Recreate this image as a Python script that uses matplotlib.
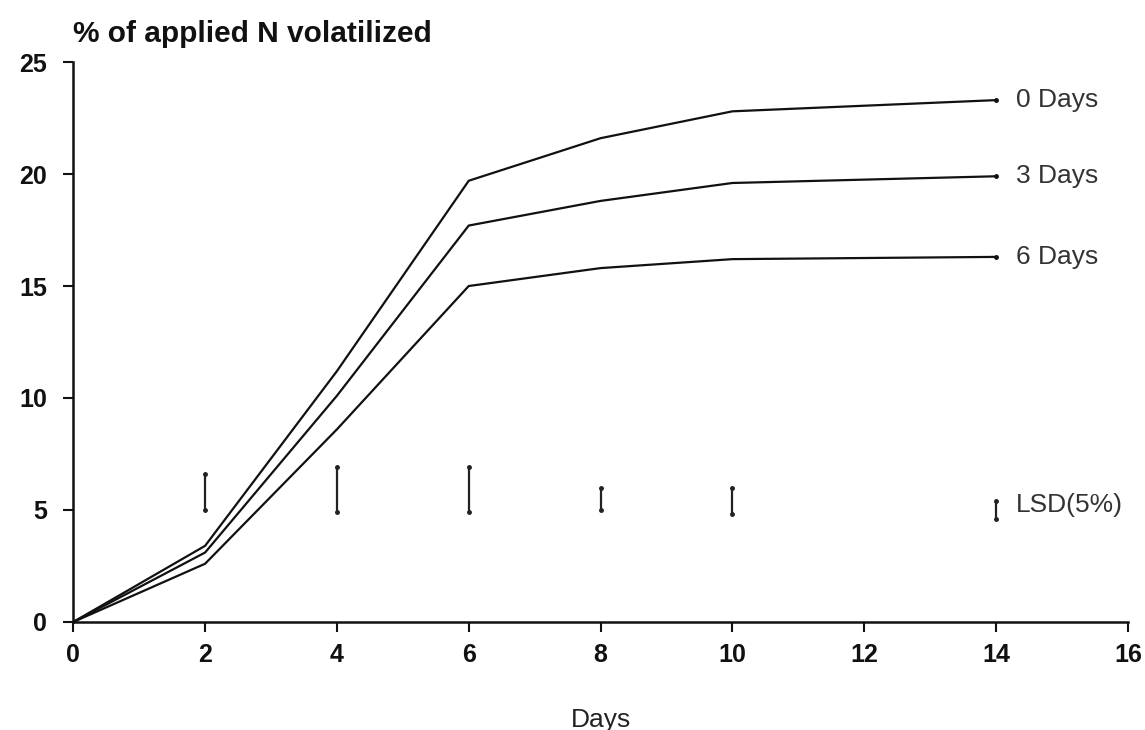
import matplotlib
matplotlib.use("Agg")
import matplotlib.pyplot as plt

# sampling days after application
days = [0, 2, 4, 6, 8, 10, 14]

# % of applied N volatilized, by delay before incorporation
n_0days = [0.0, 3.4, 11.2, 19.7, 21.6, 22.8, 23.3]
n_3days = [0.0, 3.1, 10.1, 17.7, 18.8, 19.6, 19.9]
n_6days = [0.0, 2.6, 8.6, 15.0, 15.8, 16.2, 16.3]
series_labels = ["0 Days", "3 Days", "6 Days"]

# LSD (5%) bars: day, bottom, top
lsd_days = [2, 4, 6, 8, 10, 14]
lsd_low = [5.0, 4.9, 4.9, 5.0, 4.8, 4.6]
lsd_high = [6.6, 6.9, 6.9, 6.0, 6.0, 5.4]

xticks = [0, 2, 4, 6, 8, 10, 12, 14, 16]
yticks = [0, 5, 10, 15, 20, 25]

plt.rcParams["font.family"] = ["Liberation Sans", "DejaVu Sans"]

fig = plt.figure(figsize=(11.45, 7.3), dpi=100)
ax = fig.add_axes([0.064, 0.148, 0.921, 0.767])

for vals, lab in zip([n_0days, n_3days, n_6days], series_labels):
    ax.plot(days, vals, color="#111111", linewidth=1.6)
    ax.plot(days[-1], vals[-1], marker="o", markersize=2.5, color="#111111")
    ax.text(days[-1] + 0.3, vals[-1], lab, fontsize=19, color="#333333",
            va="center", ha="left")

# LSD bars
for d, lo, hi in zip(lsd_days, lsd_low, lsd_high):
    ax.plot([d, d], [lo, hi], color="#222222", linewidth=1.6,
            marker="o", markersize=2.5)
ax.text(14.3, 5.2, "LSD(5%)", fontsize=19, color="#333333",
        va="center", ha="left")

ax.set_xlim(0, 16)
ax.set_ylim(0, 25)
ax.set_xticks(xticks)
ax.set_yticks(yticks)
ax.set_xticklabels([str(t) for t in xticks], fontsize=18, fontweight="bold")
ax.set_yticklabels([str(t) for t in yticks], fontsize=18, fontweight="heavy")
ax.tick_params(axis="both", direction="out", length=7, width=1.5, colors="#111111")
ax.tick_params(axis="y", pad=12)
ax.tick_params(axis="x", pad=8)

for side in ["top", "right"]:
    ax.spines[side].set_visible(False)
for side in ["left", "bottom"]:
    ax.spines[side].set_linewidth(1.8)
    ax.spines[side].set_color("#111111")

ax.set_xlabel("Days", fontsize=19, color="#222222", labelpad=1)
ax.xaxis.set_label_coords(0.5, -0.153)
fig.text(0.064, 0.953, "% of applied N volatilized", fontsize=21.5,
         fontweight="bold", color="#111111", ha="left", va="center")

fig.savefig("out.png", dpi=100, facecolor="white")
plt.close(fig)
